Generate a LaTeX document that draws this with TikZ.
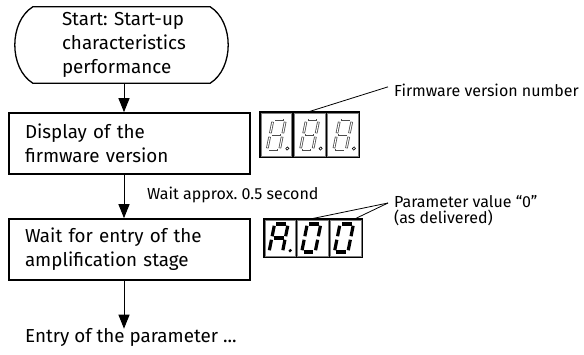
\documentclass[tikz,border=0pt]{standalone}
\usepackage{fontspec}
\setmainfont{Fira Sans}
\usetikzlibrary{arrows.meta, positioning, calc}
\frenchspacing

% seven segments of a unit digit (1 wide, 2 high): x1/y1/x2/y2
\def\digE{0/2/1/2, 1/2/1/1, 1/1/1/0, 0/0/1/0, 0/0/0/1, 0/1/0/2, 0/1/1/1}
\def\digA{0/2/1/2, 1/2/1/1, 1/1/1/0, 0/0/0/1, 0/1/0/2, 0/1/1/1}
\def\digO{0/2/1/2, 1/2/1/1, 1/1/1/0, 0/0/1/0, 0/0/0/1, 0/1/0/2}

\begin{document}
\begin{tikzpicture}[
    x=1pt, y=-1pt,
    font=\fontsize{18.8}{24}\selectfont,
    startbox/.style={minimum width=177pt, minimum height=76pt, text width=119pt, align=left, inner sep=0pt},
    flowbox/.style={draw, line width=1.6pt, minimum width=241pt, minimum height=61pt,
        text width=209pt, align=left, inner sep=0pt},
    lbl/.style={font=\fontsize{16}{16}\selectfont, inner sep=0pt, align=left},
    dispbox/.style={draw, line width=1.1pt, minimum width=32.7pt, inner sep=0pt},
    segoff/.style={draw=black!70, line width=2.6pt, shorten <=1.8pt, shorten >=1.8pt},
    segcore/.style={draw=white, line width=1pt, shorten <=2.4pt, shorten >=2.4pt},
    segon/.style={line width=3.2pt, shorten <=1.8pt, shorten >=1.8pt},
    lead/.style={line width=0.8pt},
    arr/.style={-{Triangle[length=14pt,width=11pt]}, line width=1pt}
]
\useasboundingbox (0,0) rectangle (584,355);
\coordinate (ax) at (124,0);

% flow chart
\node[startbox] (start) at (121.5,45) {\mbox{Start: Start-up}\\\mbox{characteristics}\\\mbox{performance}};
\draw[line width=1.3pt] (start.north west) -- (start.north east)
    .. controls +(24,15) and +(24,-15) .. (start.south east) -- (start.south west)
    .. controls +(-24,-15) and +(-24,15) .. (start.north west) -- cycle;
\node[flowbox] (disp) at (129.5,143.5) {Display of the\\firmware version};
\node[flowbox] (wait) at (129.5,249.5) {Wait for entry of the\\amplification stage};
\node[inner sep=0pt, anchor=base west] (entry) at (25,343) {Entry of the parameter ...};
\node[lbl, anchor=base west] (delay) at (147,200) {Wait approx. 0.5 second};

\draw[arr] (start.south -| ax) -- (disp.north -| ax);
\draw[arr] (disp.south -| ax) -- (wait.north -| ax);
\draw[arr] (wait.south -| ax) -- (entry.north -| ax);

% firmware display
\foreach \i/\x in {a/260, b/293.3, c/326.6} {
  \node[dispbox, minimum height=45pt] (fw\i) at (\x+16.35,134.5) {};
  \draw[gray, line width=0.6pt] ([shift={(1.6,1.6)}]fw\i.north west) rectangle ([shift={(-1.6,-1.6)}]fw\i.south east);
}
\foreach \x in {267, 300.3, 333.6} {
  \begin{scope}[shift={(\x,150)}, x=12.5pt, y=15pt, xslant=0.2]
    \foreach \xa/\ya/\xb/\yb in \digE {\draw[segoff] (\xa,\ya) -- (\xb,\yb);}
    \foreach \xa/\ya/\xb/\yb in \digE {\draw[segcore] (\xa,\ya) -- (\xb,\yb);}
    \draw[line width=0.6pt] (1.6,0.1) circle[radius=1.6pt];
  \end{scope}
}
\node[lbl, anchor=base west] (fwtxt) at (394,97) {Firmware version number};
\draw[lead] (fwb.north) -- ($(fwtxt.west)+(-6,-4)$);

% parameter display
\foreach \i/\x in {a/264, b/296.7, c/329.4} {
  \node[dispbox, minimum height=38pt] (par\i) at (\x+16.35,238) {};
  \draw[gray, line width=0.6pt] ([shift={(1.6,1.6)}]par\i.north west) rectangle ([shift={(-1.6,-1.6)}]par\i.south east);
}
\begin{scope}[shift={(269,252)}, x=13.5pt, y=14pt, xslant=0.2]
  \foreach \xa/\ya/\xb/\yb in \digA {\draw[segon] (\xa,\ya) -- (\xb,\yb);}
  \fill (1.55,0.1) circle[radius=1.8pt];
\end{scope}
\foreach \x in {301.7, 334.4} {
  \begin{scope}[shift={(\x,252)}, x=13.5pt, y=14pt, xslant=0.2]
    \foreach \xa/\ya/\xb/\yb in \digO {\draw[segon] (\xa,\ya) -- (\xb,\yb);}
  \end{scope}
}
\node[lbl, anchor=north west] (partxt) at (394,195) {Parameter value “0”\\(as delivered)};
\draw[lead] (parb.north) -- ($(partxt.north west)+(-6,8)$);
\draw[lead] ([xshift=10pt]parc.north) -- ($(partxt.north west)+(-6,8)$);
\end{tikzpicture}
\end{document}
